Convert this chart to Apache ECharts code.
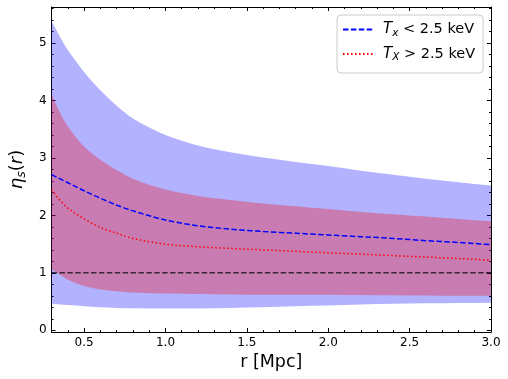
<!DOCTYPE html>
<html>
<head>
<meta charset="utf-8">
<script src="https://cdn.jsdelivr.net/npm/echarts@6/dist/echarts.min.js"></script>
<style>
  html, body { margin: 0; padding: 0; background: #fff; }
  #main { width: 508px; height: 379px; }
</style>
</head>
<body>
<div id="main"></div>
<script>
// radius grid (Mpc)
var rVals = [0.3, 0.35, 0.4, 0.5, 0.6, 0.7, 0.8, 1.0, 1.2, 1.4, 1.6, 1.8, 2.0, 2.2, 2.4, 2.6, 2.8, 3.0];
// T_x < 2.5 keV : mean and band
var blueMean = [2.71, 2.64, 2.57, 2.43, 2.30, 2.18, 2.08, 1.92, 1.82, 1.76, 1.72, 1.69, 1.66, 1.63, 1.60, 1.56, 1.53, 1.49];
var blueLow  = [0.465, 0.45, 0.44, 0.42, 0.40, 0.39, 0.385, 0.38, 0.38, 0.39, 0.40, 0.42, 0.43, 0.45, 0.46, 0.47, 0.475, 0.48];
var blueHigh = [5.38, 5.12, 4.88, 4.50, 4.18, 3.91, 3.69, 3.40, 3.22, 3.10, 3.01, 2.93, 2.86, 2.78, 2.71, 2.64, 2.58, 2.52];
// T_X > 2.5 keV : mean and band
var redMean = [2.45, 2.27, 2.13, 1.94, 1.79, 1.69, 1.60, 1.50, 1.455, 1.425, 1.40, 1.375, 1.35, 1.325, 1.30, 1.275, 1.25, 1.22];
var redLow  = [1.06, 0.97, 0.88, 0.77, 0.71, 0.68, 0.66, 0.64, 0.63, 0.625, 0.62, 0.62, 0.62, 0.615, 0.61, 0.605, 0.60, 0.60];
var redHigh = [4.11, 3.80, 3.55, 3.20, 2.97, 2.79, 2.64, 2.45, 2.34, 2.27, 2.21, 2.16, 2.11, 2.06, 2.02, 1.98, 1.94, 1.90];
// reference line eta = 1
var refX = [0.3, 3.0];
var refY = [1, 1];
// ticks
var xMajor = [0.5, 1.0, 1.5, 2.0, 2.5, 3.0];
var yMajor = [0, 1, 2, 3, 4, 5];

var xMinor = [];
for (var i = 3; i <= 30; i++) { if (i % 5 !== 0) xMinor.push(i / 10); }
var yMinor = [];
for (var j = 0; j <= 28; j++) { if (j % 5 !== 0) yMinor.push(j / 5); }

function pairs(xs, ys) { return xs.map(function (x, k) { return [x, ys[k]]; }); }

var FONT = 'DejaVu Sans';
var XMIN = 0.3, XMAX = 3.0, YMIN = -0.03, YMAX = 5.63;
var DASH = [5.5, 2.4], DOT = [1.5, 2.5];

function xAx(pos, vals, len, main) {
  return {
    type: 'value', position: pos, min: XMIN, max: XMAX,
    axisLine: { show: main, onZero: false, lineStyle: { color: '#000', width: 1 } },
    axisTick: { show: true, inside: true, length: len, customValues: vals, lineStyle: { color: '#000', width: 1 } },
    axisLabel: { show: false },
    splitLine: { show: false }
  };
}
function yAx(pos, vals, len, main) {
  return {
    type: 'value', position: pos, min: YMIN, max: YMAX,
    axisLine: { show: main, onZero: false, lineStyle: { color: '#000', width: 1 } },
    axisTick: { show: true, inside: true, length: len, customValues: vals, lineStyle: { color: '#000', width: 1 } },
    axisLabel: { show: false },
    splitLine: { show: false }
  };
}

var xAxes = [xAx('bottom', xMajor, 4, true), xAx('bottom', xMinor, 2, false), xAx('top', xMajor, 4, true), xAx('top', xMinor, 2, false)];
xAxes[0].axisLabel = { show: true, customValues: xMajor, margin: 5, color: '#000', fontFamily: FONT, fontSize: 12,
  formatter: function (v) { return v.toFixed(1); } };
xAxes[0].name = 'r [Mpc]';
xAxes[0].nameLocation = 'middle';
xAxes[0].nameGap = 21;
xAxes[0].nameTextStyle = { color: '#000', fontFamily: FONT, fontSize: 17.5 };

var yAxes = [yAx('left', yMajor, 4, true), yAx('left', yMinor, 2, false), yAx('right', yMajor, 4, true), yAx('right', yMinor, 2, false)];
yAxes[0].axisLabel = { show: true, customValues: yMajor, margin: 5, color: '#000', fontFamily: FONT, fontSize: 12 };
yAxes[0].name = '{i|η}{s|s}{t|(}{i|r}{t|)}';
yAxes[0].nameLocation = 'middle';
yAxes[0].nameRotate = 90;
yAxes[0].nameGap = 18;
yAxes[0].nameTextStyle = {
  color: '#000', fontFamily: FONT, fontSize: 17.5,
  rich: {
    i: { fontFamily: FONT, fontStyle: 'italic', fontSize: 18, lineHeight: 22, color: '#000' },
    s: { fontFamily: FONT, fontStyle: 'italic', fontSize: 12.5, lineHeight: 12, verticalAlign: 'bottom', color: '#000' },
    t: { fontFamily: FONT, fontSize: 18, lineHeight: 22, color: '#000' }
  }
};

// smooth curve through pixel points (Hermite in x, written as cubic beziers)
function curvePath(pts, start) {
  var n = pts.length, tan = [];
  for (var k = 0; k < n; k++) {
    var a = pts[Math.max(k - 1, 0)], b = pts[Math.min(k + 1, n - 1)];
    var dx = b[0] - a[0];
    tan.push(dx ? (b[1] - a[1]) / dx : 0);
  }
  var d = (start ? 'M' : 'L') + pts[0][0] + ' ' + pts[0][1];
  for (var s = 0; s < n - 1; s++) {
    var p = pts[s], q = pts[s + 1], h = (q[0] - p[0]) / 3;
    d += ' C' + (p[0] + h) + ' ' + (p[1] + tan[s] * h) + ' ' +
         (q[0] - h) + ' ' + (q[1] - tan[s + 1] * h) + ' ' + q[0] + ' ' + q[1];
  }
  return d;
}

// filled band between lo and hi, one path through the axis scales
function band(name, lo, hi, fill) {
  return {
    name: name, type: 'custom', xAxisIndex: 0, yAxisIndex: 0, silent: true,
    data: rVals.map(function (r, k) { return [r, lo[k], hi[k]]; }),
    encode: { x: 0, y: [1, 2] },
    renderItem: function (params, api) {
      if (params.dataIndex !== 0) return null;
      var top = [], bot = [];
      for (var k = 0; k < rVals.length; k++) top.push(api.coord([rVals[k], hi[k]]));
      for (var m = rVals.length - 1; m >= 0; m--) bot.push(api.coord([rVals[m], lo[m]]));
      return { type: 'path', shape: { pathData: curvePath(top, true) + ' ' + curvePath(bot, false) + ' Z' },
               style: { fill: fill } };
    }
  };
}

// smooth mean curve
function curve(name, ys, color, dash) {
  return {
    name: name + '_curve', type: 'custom', xAxisIndex: 0, yAxisIndex: 0, silent: true, z: 3,
    data: pairs(rVals, ys),
    encode: { x: 0, y: 1 },
    renderItem: function (params, api) {
      if (params.dataIndex !== 0) return null;
      var pts = rVals.map(function (r, k) { return api.coord([r, ys[k]]); });
      return { type: 'path', shape: { pathData: curvePath(pts, true) },
               style: { fill: null, stroke: color, lineWidth: 1.5, lineDash: dash } };
    }
  };
}

var series = [
  band('blueBand', blueLow, blueHigh, 'rgba(0,0,255,0.3)'),
  band('redBand', redLow, redHigh, 'rgba(255,0,0,0.3)'),
  { name: 'ref', type: 'line', data: pairs(refX, refY), symbol: 'none', color: '#000', z: 3,
    lineStyle: { color: '#000', opacity: 0.7, width: 1.5, type: DASH } },
  curve('lo', blueMean, '#0000ff', DASH),
  curve('hi', redMean, '#ff0000', DOT),
  // legend entries
  { name: 'lo', type: 'line', data: [], symbol: 'none', color: '#0000ff',
    lineStyle: { color: '#0000ff', width: 1.5, type: DASH } },
  { name: 'hi', type: 'line', data: [], symbol: 'none', color: '#ff0000',
    lineStyle: { color: '#ff0000', width: 1.5, type: DOT } }
];

var chart = echarts.init(document.getElementById('main'), null, { renderer: 'canvas' });
chart.setOption({
  animation: false,
  backgroundColor: '#fff',
  grid: { left: 46, right: 17, top: 7, bottom: 47 },
  xAxis: xAxes,
  yAxis: yAxes,
  legend: {
    data: ['lo', 'hi'],
    orient: 'vertical',
    left: 337, top: 15,
    padding: [7, 8, 10, 5],
    itemWidth: 30, itemHeight: 14, itemGap: 8,
    itemStyle: { opacity: 0 },
    backgroundColor: 'rgba(255,255,255,0.8)',
    borderColor: '#cccccc', borderWidth: 1, borderRadius: 4,
    formatter: function (n) {
      return n === 'lo' ? '{i|T}{s|x}{t| < 2.5 keV}' : '{i|T}{s|X}{t| > 2.5 keV}';
    },
    textStyle: {
      color: '#000', fontFamily: FONT, fontSize: 14.5, padding: [0, 0, 0, 5],
      rich: {
        i: { fontFamily: FONT, fontStyle: 'italic', fontSize: 15, lineHeight: 18, color: '#000' },
        s: { fontFamily: FONT, fontStyle: 'italic', fontSize: 10.5, lineHeight: 10, verticalAlign: 'bottom', color: '#000' },
        t: { fontFamily: FONT, fontSize: 14.5, lineHeight: 18, color: '#000' }
      }
    }
  },
  series: series
});
</script>
</body>
</html>
